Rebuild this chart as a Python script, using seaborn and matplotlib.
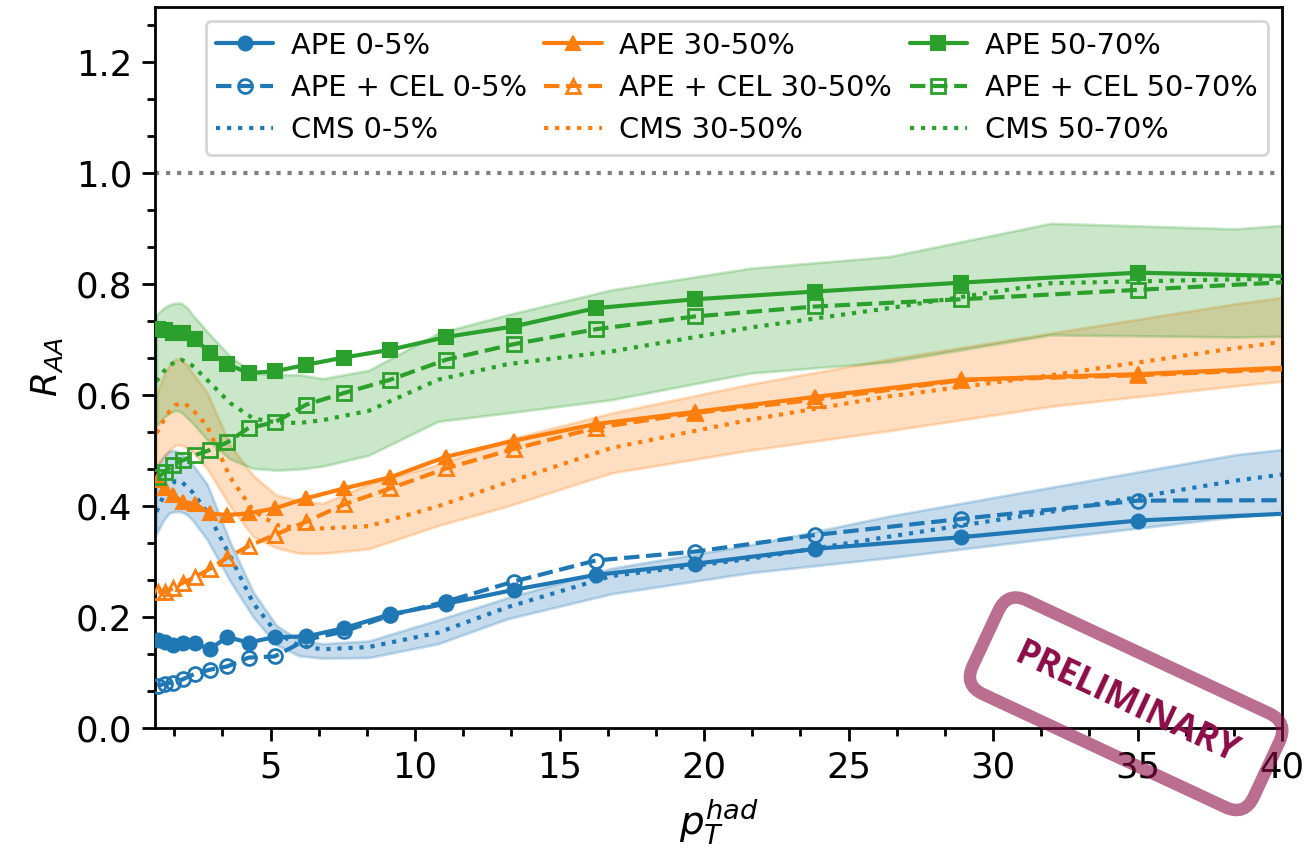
import matplotlib
matplotlib.use("Agg")
import matplotlib.pyplot as plt
from matplotlib.ticker import AutoMinorLocator, MultipleLocator
import seaborn as sns

# ---------------- data ----------------
x_ape = [1.11, 1.34, 1.63, 1.97, 2.39, 2.89, 3.50, 4.24, 5.14, 6.23, 7.54, 9.14,
         11.07, 13.41, 16.25, 19.68, 23.85, 28.89, 35.0, 42.4]

ape_0_5 = [0.159, 0.155, 0.150, 0.154, 0.153, 0.142, 0.164, 0.154, 0.164, 0.165, 0.180, 0.205,
           0.224, 0.249, 0.276, 0.296, 0.323, 0.344, 0.374, 0.392]
cel_0_5 = [0.076, 0.080, 0.082, 0.088, 0.098, 0.105, 0.111, 0.127, 0.129, 0.159, 0.174, 0.203,
           0.228, 0.264, 0.302, 0.318, 0.348, 0.377, 0.410, 0.411]
ape_30_50 = [0.448, 0.432, 0.420, 0.408, 0.404, 0.387, 0.384, 0.387, 0.396, 0.414, 0.432, 0.452,
             0.489, 0.518, 0.548, 0.570, 0.597, 0.628, 0.638, 0.655]
cel_30_50 = [0.246, 0.245, 0.252, 0.262, 0.272, 0.287, 0.307, 0.328, 0.348, 0.372, 0.403, 0.432,
             0.468, 0.503, 0.541, 0.568, 0.592, 0.627, 0.636, 0.652]
ape_50_70 = [0.720, 0.718, 0.713, 0.712, 0.701, 0.677, 0.656, 0.640, 0.643, 0.655, 0.668, 0.682,
             0.705, 0.724, 0.757, 0.773, 0.787, 0.803, 0.821, 0.812]
cel_50_70 = [0.452, 0.462, 0.474, 0.483, 0.492, 0.501, 0.515, 0.541, 0.551, 0.583, 0.604, 0.628,
             0.664, 0.692, 0.719, 0.742, 0.760, 0.773, 0.790, 0.810]

x_cms = [1.05, 1.15, 1.3, 1.5, 1.7, 1.9, 2.1, 2.3, 2.8, 3.6, 4.4, 5.2, 6.0, 6.8, 8.4,
         10.8, 13.2, 16.8, 21.6, 26.4, 32.0, 38.4, 44.8]

cms_0_5 = [0.39, 0.40, 0.42, 0.435, 0.445, 0.445, 0.435, 0.425, 0.39, 0.31, 0.225, 0.172, 0.148,
           0.142, 0.146, 0.172, 0.218, 0.274, 0.305, 0.345, 0.39, 0.446, 0.49]
cms_0_5_lo = [0.35, 0.36, 0.375, 0.388, 0.39, 0.39, 0.385, 0.375, 0.34, 0.265, 0.20, 0.15, 0.13,
              0.126, 0.127, 0.152, 0.197, 0.242, 0.28, 0.307, 0.342, 0.381, 0.41]
cms_0_5_hi = [0.47, 0.48, 0.49, 0.50, 0.50, 0.495, 0.485, 0.475, 0.44, 0.335, 0.245, 0.185, 0.158,
              0.152, 0.157, 0.195, 0.235, 0.288, 0.33, 0.382, 0.434, 0.493, 0.53]

cms_30_50 = [0.532, 0.54, 0.555, 0.571, 0.582, 0.586, 0.582, 0.574, 0.545, 0.452, 0.392, 0.366,
             0.360, 0.360, 0.364, 0.40, 0.443, 0.505, 0.556, 0.598, 0.636, 0.685, 0.73]
cms_30_50_lo = [0.47, 0.475, 0.49, 0.50, 0.51, 0.51, 0.505, 0.498, 0.468, 0.40, 0.345, 0.325,
                0.315, 0.315, 0.323, 0.365, 0.40, 0.46, 0.501, 0.536, 0.58, 0.617, 0.65]
cms_30_50_hi = [0.60, 0.615, 0.635, 0.655, 0.665, 0.665, 0.655, 0.64, 0.605, 0.51, 0.455, 0.42,
                0.41, 0.405, 0.44, 0.475, 0.52, 0.568, 0.62, 0.665, 0.712, 0.765, 0.81]

cms_50_70 = [0.625, 0.632, 0.643, 0.653, 0.661, 0.664, 0.66, 0.653, 0.628, 0.586, 0.558, 0.551,
             0.55, 0.555, 0.572, 0.628, 0.656, 0.679, 0.722, 0.757, 0.802, 0.809, 0.813]
cms_50_70_lo = [0.545, 0.55, 0.56, 0.568, 0.573, 0.57, 0.56, 0.55, 0.52, 0.485, 0.468, 0.465,
                0.467, 0.472, 0.492, 0.553, 0.568, 0.592, 0.64, 0.66, 0.709, 0.705, 0.71]
cms_50_70_hi = [0.745, 0.75, 0.757, 0.763, 0.766, 0.766, 0.758, 0.745, 0.715, 0.67, 0.64, 0.637,
                0.637, 0.63, 0.645, 0.712, 0.745, 0.79, 0.829, 0.85, 0.91, 0.90, 0.925]

centralities = ["0-5%", "30-50%", "50-70%"]
markers = ["o", "^", "s"]

# ---------------- style ----------------
sns.set_theme(style="ticks", rc={"text.color": "black", "axes.labelcolor": "black",
                                 "xtick.color": "black", "ytick.color": "black",
                                 "axes.edgecolor": "black"})
plt.rcParams["font.family"] = ["DejaVu Sans"]
plt.rcParams["mathtext.fontset"] = "dejavusans"
palette = sns.color_palette("tab10")

fig = plt.figure(figsize=(6.57, 4.26), dpi=200)
ax = fig.add_axes([155 / 1314, 1 - 728 / 852, (1282 - 155) / 1314, (728 - 7) / 852])

groups = [
    (ape_0_5, cel_0_5, cms_0_5, cms_0_5_lo, cms_0_5_hi),
    (ape_30_50, cel_30_50, cms_30_50, cms_30_50_lo, cms_30_50_hi),
    (ape_50_70, cel_50_70, cms_50_70, cms_50_70_lo, cms_50_70_hi),
]

for i, (ape, cel, cms, lo, hi) in enumerate(groups):
    c = palette[i]
    cent = centralities[i]
    ax.fill_between(x_cms, lo, hi, color=c, alpha=0.25, linewidth=1.0, zorder=1)
    sns.lineplot(x=x_ape, y=ape, ax=ax, color=c, marker=markers[i], markersize=5,
                 markeredgecolor=c, linewidth=1.5, label=f"APE {cent}", zorder=3)
    sns.lineplot(x=x_ape, y=cel, ax=ax, color=c, marker=markers[i], markersize=5,
                 markerfacecolor="none", markeredgecolor=c, markeredgewidth=1.0,
                 linestyle="--", linewidth=1.5, label=f"APE + CEL {cent}", zorder=3)
    sns.lineplot(x=x_cms, y=cms, ax=ax, color=c, linestyle=":", linewidth=1.5,
                 label=f"CMS {cent}", zorder=2)

ax.axhline(1.0, color="gray", linestyle=":", linewidth=1.5, zorder=1)

ax.set_xlim(1.0, 40)
ax.set_ylim(0, 1.3)
ax.xaxis.set_major_locator(MultipleLocator(5))
ax.yaxis.set_major_locator(MultipleLocator(0.2))
ax.xaxis.set_minor_locator(AutoMinorLocator(3))
ax.yaxis.set_minor_locator(AutoMinorLocator(3))
ax.tick_params(which="major", length=4.7, width=1.0, labelsize=12.8, color="black",
               labelcolor="black")
ax.tick_params(which="minor", length=2.8, width=1.0, color="black")
for s in ax.spines.values():
    s.set_linewidth(1.0)
    s.set_color("black")

ax.set_xlabel(r"$p_T^{had}$", fontsize=14)
ax.set_ylabel(r"$R_{AA}$", fontsize=13)

ax.legend(ncol=3, loc="upper right", fontsize=10.4, framealpha=0.8, columnspacing=0.6,
          handletextpad=0.6, borderpad=0.35)

fig.text(0.857, 0.174, "PRELIMINARY", rotation=-25, ha="center", va="center",
         fontsize=12.8, fontweight="bold", color="#8b0d47", family=["Open Sans", "DejaVu Sans"],
         bbox=dict(boxstyle="round,pad=0.95,rounding_size=0.6", fc="none",
                   ec=(0.55, 0.05, 0.28, 0.6), lw=4.5),
         zorder=10)

fig.savefig("out.png", dpi=200)
